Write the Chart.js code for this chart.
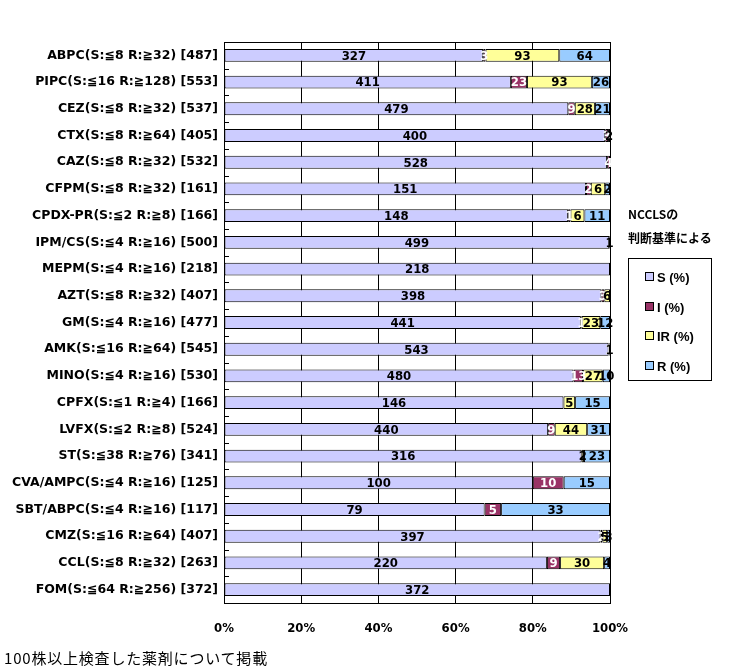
<!DOCTYPE html>
<html>
<head>
<meta charset="utf-8">
<script src="https://cdn.jsdelivr.net/npm/chart.js@4/dist/chart.umd.min.js"></script>
<style>
  html, body { margin: 0; padding: 0; background: #fff; }
  #wrap { position: relative; width: 738px; height: 672px; overflow: hidden; }
  #c { position: absolute; left: 0; top: 0; }
  .ttl { position: absolute; left: 628px; font: bold 12px 'Noto Sans CJK JP', sans-serif; color: #000; white-space: nowrap; }
  #legend { position: absolute; left: 628px; top: 258px; width: 84px; height: 123px; border: 1px solid #000; box-sizing: border-box; }
  .item { position: absolute; left: 16px; font: bold 13px 'Liberation Sans', 'DejaVu Sans', sans-serif; color: #000; white-space: nowrap; line-height: 14px; }
  .sw { display: inline-block; width: 7px; height: 7px; border: 1px solid #000; margin-right: 3px; vertical-align: 1px; }
  #note { position: absolute; left: 4px; top: 647px; font: 15px 'Noto Sans CJK JP', sans-serif; color: #000; white-space: nowrap; letter-spacing: 0.8px; }
</style>
</head>
<body>
<div id="wrap">
  <canvas id="c" width="738" height="672"></canvas>
  <div class="ttl" style="top:205px;">NCCLSの</div>
  <div class="ttl" style="top:229px;">判断基準による</div>
  <div id="legend"></div>
  <div id="note">100株以上検査した薬剤について掲載</div>
</div>
<script>
const categories = [
  "ABPC(S:≦8 R:≧32) [487]",
  "PIPC(S:≦16 R:≧128) [553]",
  "CEZ(S:≦8 R:≧32) [537]",
  "CTX(S:≦8 R:≧64) [405]",
  "CAZ(S:≦8 R:≧32) [532]",
  "CFPM(S:≦8 R:≧32) [161]",
  "CPDX-PR(S:≦2 R:≧8) [166]",
  "IPM/CS(S:≦4 R:≧16) [500]",
  "MEPM(S:≦4 R:≧16) [218]",
  "AZT(S:≦8 R:≧32) [407]",
  "GM(S:≦4 R:≧16) [477]",
  "AMK(S:≦16 R:≧64) [545]",
  "MINO(S:≦4 R:≧16) [530]",
  "CPFX(S:≦1 R:≧4) [166]",
  "LVFX(S:≦2 R:≧8) [524]",
  "ST(S:≦38 R:≧76) [341]",
  "CVA/AMPC(S:≦4 R:≧16) [125]",
  "SBT/ABPC(S:≦4 R:≧16) [117]",
  "CMZ(S:≦16 R:≧64) [407]",
  "CCL(S:≦8 R:≧32) [263]",
  "FOM(S:≦64 R:≧256) [372]"
];
const seriesNames = ["S (%)", "I (%)", "IR (%)", "R (%)"];
const sCounts  = [327,411,479,400,528,151,148,499,218,398,441,543,480,146,440,316,100,79,397,220,372];
const iCounts  = [3,23,9,3,4,2,1,0,0,3,1,1,13,0,9,0,10,5,2,9,0];
const irCounts = [93,93,28,0,0,6,6,0,0,6,23,0,27,5,44,2,0,0,5,30,0];
const rCounts  = [64,26,21,2,0,2,11,1,0,0,12,1,10,15,31,23,15,33,3,4,0];
const xTicks = [0,20,40,60,80,100];

const colors = ["#CCCCFF", "#993366", "#FFFF99", "#99CCFF"];
const labelColors = ["#000", "#fff", "#000", "#000"];
const countSets = [sCounts, iCounts, irCounts, rCounts];
const totals = sCounts.map((v, i) => v + iCounts[i] + irCounts[i] + rCounts[i]);

const datasets = countSets.map((arr, k) => ({
  label: seriesNames[k],
  data: arr.map((v, i) => v > 0 ? v / totals[i] * 100 : null),
  counts: arr,
  backgroundColor: colors[k],
  borderColor: "#000",
  borderWidth: 1,
  borderSkipped: false,
  labelColor: labelColors[k],
  categoryPercentage: 1,
  barPercentage: 0.48
}));

// legend
const lg = document.getElementById('legend');
seriesNames.forEach((n, k) => {
  const d = document.createElement('div');
  d.className = 'item';
  d.style.top = (12 + k * 29.5) + 'px';
  d.innerHTML = '<span class="sw" style="background:' + colors[k] + '"></span>' + n;
  lg.appendChild(d);
});

const extras = {
  id: 'extras',
  beforeDatasetsDraw(chart) {
    const ctx = chart.ctx, a = chart.chartArea, y = chart.scales.y;
    ctx.save();
    ctx.strokeStyle = '#000';
    ctx.lineWidth = 1;
    for (let i = 0; i < categories.length - 1; i++) {
      const py = Math.round((y.getPixelForValue(i) + y.getPixelForValue(i + 1)) / 2) + 0.5;
      ctx.beginPath();
      ctx.moveTo(a.left, py);
      ctx.lineTo(a.left + 5, py);
      ctx.stroke();
    }
    ctx.restore();
  },
  afterDatasetsDraw(chart) {
    const ctx = chart.ctx, a = chart.chartArea;
    ctx.save();
    ctx.strokeStyle = '#000';
    ctx.lineWidth = 1;
    ctx.strokeRect(Math.round(a.left) + 0.5, Math.round(a.top) + 0.5, Math.round(a.right - a.left), Math.round(a.bottom - a.top));
    ctx.font = "bold 13px 'DejaVu Sans Condensed', 'Liberation Sans Narrow', sans-serif";
    ctx.textAlign = 'center';
    ctx.textBaseline = 'middle';
    chart.data.datasets.forEach((ds, k) => {
      const meta = chart.getDatasetMeta(k);
      meta.data.forEach((el, i) => {
        const c = ds.counts[i];
        if (!c) return;
        const cx = (el.x + el.base) / 2;
        ctx.fillStyle = ds.labelColor;
        ctx.fillText(String(c), cx, el.y + 1);
      });
    });
    ctx.restore();
  }
};

new Chart(document.getElementById('c'), {
  type: 'bar',
  data: { labels: categories, datasets },
  options: {
    indexAxis: 'y',
    responsive: false,
    animation: false,
    layout: { padding: { top: 42, right: 128, bottom: 29, left: 0 } },
    plugins: { legend: { display: false }, tooltip: { enabled: false } },
    scales: {
      x: {
        stacked: true, min: 0, max: 100,
        afterBuildTicks(scale) { scale.ticks = xTicks.map(v => ({ value: v })); },
        afterFit(scale) { scale.height = 40; },
        ticks: {
          callback: v => v + '%',
          color: '#000',
          font: { family: "'DejaVu Sans Condensed', 'DejaVu Sans', sans-serif", size: 13, weight: 'bold' },
          padding: 18,
          maxRotation: 0
        },
        grid: { color: '#000', lineWidth: 1, drawTicks: false },
        border: { display: true, color: '#000' }
      },
      y: {
        stacked: true,
        afterFit(scale) { scale.width = 224; },
        ticks: {
          color: '#000',
          font: { family: "'DejaVu Sans', sans-serif", size: 12.5, weight: 'bold' },
          padding: 6,
          autoSkip: false
        },
        grid: { display: false, drawTicks: false },
        border: { display: true, color: '#000' }
      }
    }
  },
  plugins: [extras]
});
</script>
</body>
</html>
